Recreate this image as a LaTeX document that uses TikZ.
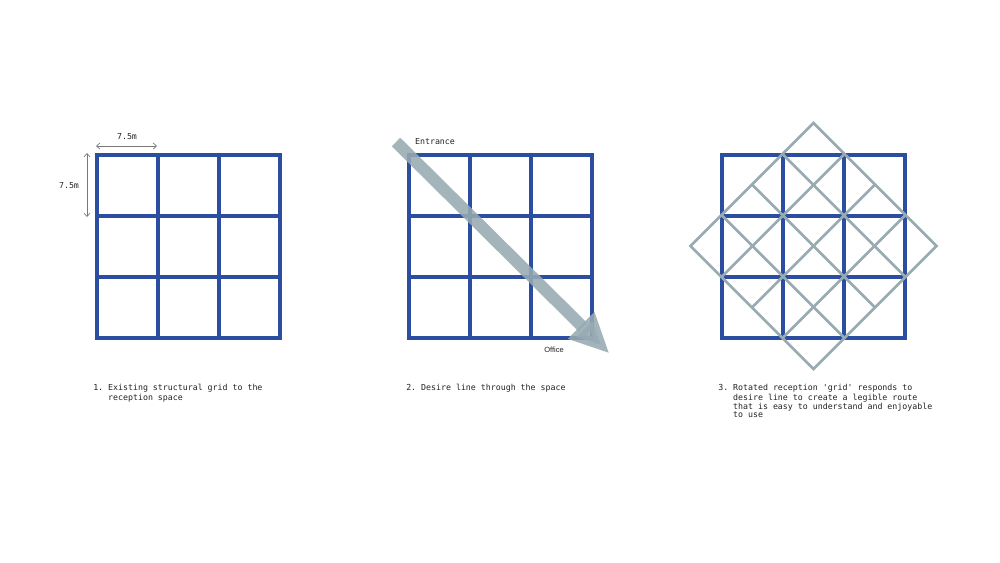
\documentclass[tikz,border=0pt]{standalone}
\usepackage{fontspec}
\setmonofont{DejaVu Sans Mono}
\setsansfont{Liberation Sans}
\usetikzlibrary{arrows.meta,positioning}
\definecolor{gridblue}{RGB}{44,78,160}
\definecolor{routegrey}{RGB}{152,170,178}
\definecolor{dimgrey}{RGB}{120,120,120}
\definecolor{textgrey}{RGB}{35,35,35}
\begin{document}
\begin{tikzpicture}[x=0.75pt,y=-0.75pt]
        \tikzstyle{structure}=[draw=gridblue,line width=3pt,line cap=rect]
        \tikzstyle{rotated}=[draw=routegrey,line width=2pt]
        \tikzstyle{desire}=[draw=routegrey,opacity=0.88,line width=9pt,-{Triangle[length=30pt,width=26pt]}]
        \tikzstyle{dimension}=[draw=dimgrey,line width=0.5pt,{Straight Barb[length=2.5pt,width=4.5pt]}-{Straight Barb[length=2.5pt,width=4.5pt]}]
        \tikzstyle{label}=[font=\ttfamily\fontsize{6.2}{7.5}\selectfont,text=textgrey,inner sep=0pt]
        \tikzstyle{caption}=[label,align=left,anchor=north west]
        \useasboundingbox[fill=white] (0,0) rectangle (1000,562);

        % structural grids
        \foreach \x in {96.5,408.5,722}
            \foreach \i in {0,...,3} {
                \draw[structure] (\x+\i*61,154.5) -- (\x+\i*61,337.5);
                \draw[structure] (\x,154.5+\i*61) -- (\x+183,154.5+\i*61);
            }

        % 1. dimensions
        \coordinate (span left) at (96,146);
        \coordinate (span right) at (157,146);
        \coordinate (span top) at (87,153);
        \coordinate (span bottom) at (87,217);
        \draw[dimension] (span left) -- (span right);
        \draw[dimension] (span top) -- (span bottom);
        \node[label] (span width) at (127,137) {7.5m};
        \node[label] (span height) at (69,186) {7.5m};

        % 2. desire line
        \coordinate (entrance end) at (396,142);
        \coordinate (office end) at (609.5,353.5);
        \draw[desire] (entrance end) -- (office end);
        \node[label] (entrance) at (435,142) {Entrance};
        \node[label,font=\sffamily\fontsize{5.6}{7}\selectfont] (office) at (554,350) {Office};

        % 3. rotated grid
        \begin{scope}[shift={(813.5,246)}]
            \draw[rotated,miter limit=10] (0,-123) -- (123,0) -- (0,123) -- (-123,0) -- cycle;
            \foreach \k in {-1,...,1} {
                \draw[rotated] ({(\k-2)*30.5},{(\k+2)*30.5}) -- ({(\k+2)*30.5},{(\k-2)*30.5});
                \draw[rotated] ({(\k-2)*30.5},{(-\k-2)*30.5}) -- ({(\k+2)*30.5},{(2-\k)*30.5});
            }
        \end{scope}

        % captions
        \node[caption] (caption one) at (93,383) {\strut 1. Existing structural grid to the\\\phantom{1. }reception space};
        \node[caption] (caption two) at (406,383) {\strut 2. Desire line through the space};
        \node[caption,font=\ttfamily\fontsize{6.2}{6.4}\selectfont] (caption three) at (718,384)
            {\strut 3. Rotated reception 'grid' responds to\\\phantom{3. }desire line to create a legible route\\\phantom{3. }that is easy to understand and enjoyable\\\phantom{3. }to use};
\end{tikzpicture}
\end{document}
